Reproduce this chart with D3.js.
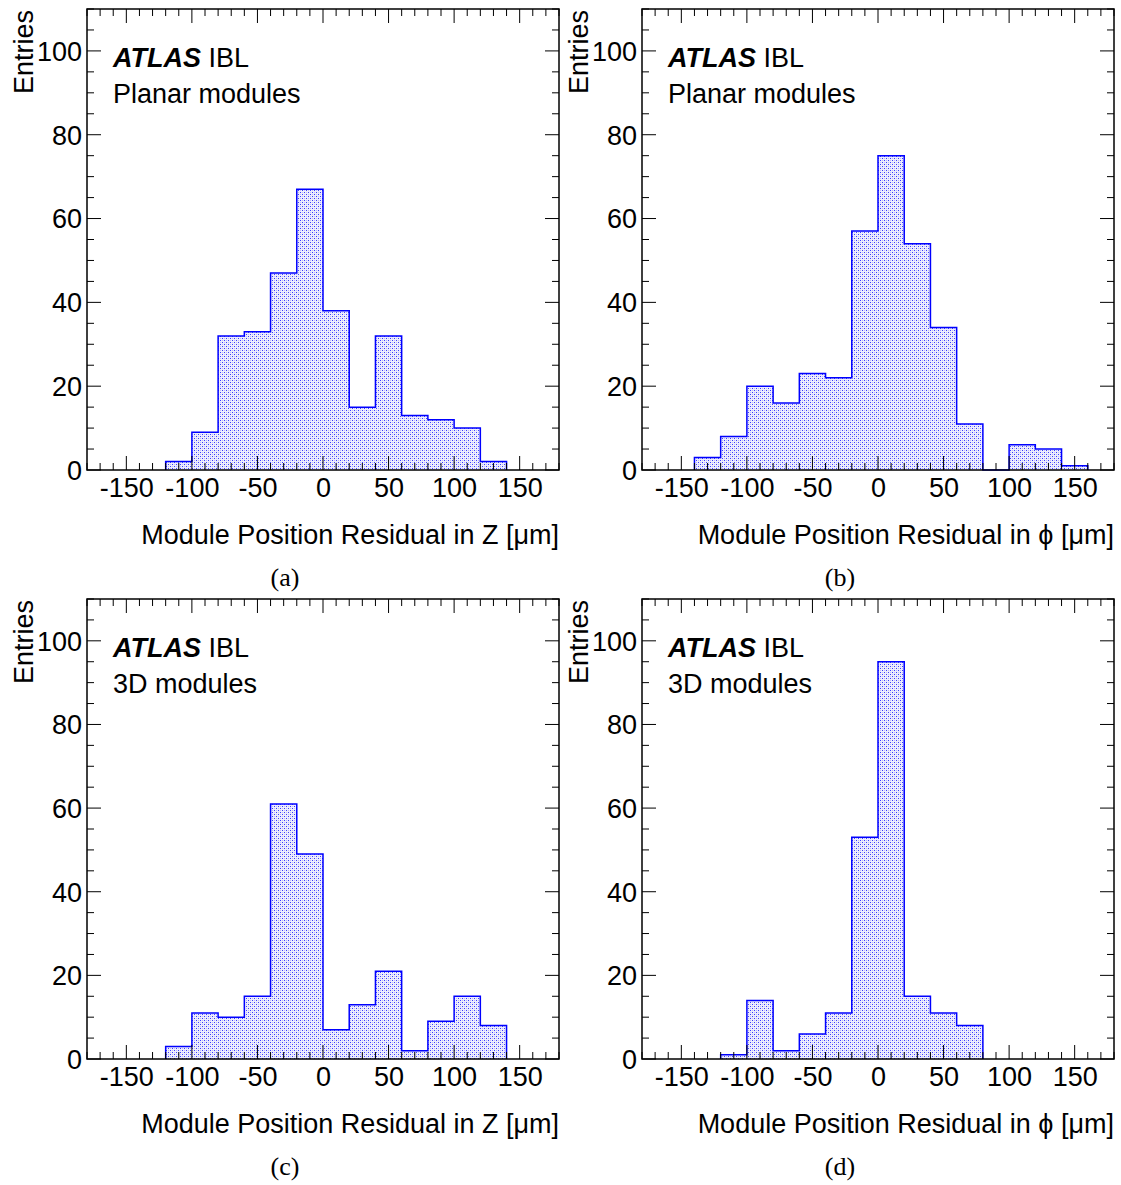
<!DOCTYPE html>
<html>
<head>
<meta charset="utf-8">
<script src="https://cdn.jsdelivr.net/npm/d3@7"></script>
<style>
  html, body { margin: 0; padding: 0; background: #fff; }
  svg { display: block; }
  text { font-family: "Liberation Sans", Arial, Helvetica, sans-serif; fill: #000; }
</style>
</head>
<body>
<script>
// ---------------- data ----------------
const binWidth = 20;
const xTickValues = [-150, -100, -50, 0, 50, 100, 150];
const yTickValues = [0, 20, 40, 60, 80, 100];
const xDomain = [-180, 180];
const yDomain = [0, 110];

const binsA = [-120, -100, -80, -60, -40, -20, 0, 20, 40, 60, 80, 100, 120];
const valuesA = [2, 9, 32, 33, 47, 67, 38, 15, 32, 13, 12, 10, 2];

const binsB = [-140, -120, -100, -80, -60, -40, -20, 0, 20, 40, 60, 80, 100, 120, 140];
const valuesB = [3, 8, 20, 16, 23, 22, 57, 75, 54, 34, 11, 0, 6, 5, 1];

const binsC = [-120, -100, -80, -60, -40, -20, 0, 20, 40, 60, 80, 100, 120];
const valuesC = [3, 11, 10, 15, 61, 49, 7, 13, 21, 2, 9, 15, 8];

const binsD = [-120, -100, -80, -60, -40, -20, 0, 20, 40, 60];
const valuesD = [1, 14, 2, 6, 11, 53, 95, 15, 11, 8];

const panelLabels = ["(a)", "(b)", "(c)", "(d)"];
const moduleLabels = ["Planar modules", "Planar modules", "3D modules", "3D modules"];
const xTitles = ["Module Position Residual in Z [\u03BCm]", "Module Position Residual in \u03D5 [\u03BCm]",
                 "Module Position Residual in Z [\u03BCm]", "Module Position Residual in \u03D5 [\u03BCm]"];
const yTitle = "Entries";

// ---------------- layout ----------------
const W = 1121, H = 1185;
const svg = d3.select("body").append("svg").attr("width", W).attr("height", H);

const defs = svg.append("defs");
const pat = defs.append("pattern").attr("id", "dots")
  .attr("patternUnits", "userSpaceOnUse").attr("width", 4).attr("height", 4);
pat.append("rect").attr("width", 4).attr("height", 4).attr("fill", "#eeeefd");
pat.append("rect").attr("x", 0).attr("y", 0).attr("width", 1).attr("height", 1).attr("fill", "#3c3cff");
pat.append("rect").attr("x", 2).attr("y", 2).attr("width", 1).attr("height", 1).attr("fill", "#3c3cff");
pat.append("rect").attr("x", 2).attr("y", 0).attr("width", 1).attr("height", 1).attr("fill", "#bcbcf8");
pat.append("rect").attr("x", 0).attr("y", 2).attr("width", 1).attr("height", 1).attr("fill", "#bcbcf8");

const frames = [
  { x0: 87, x1: 559, y0: 9, y1: 470 },
  { x0: 642, x1: 1114, y0: 9, y1: 470 },
  { x0: 87, x1: 559, y0: 599, y1: 1059 },
  { x0: 642, x1: 1114, y0: 599, y1: 1059 }
];
const data = [[binsA, valuesA], [binsB, valuesB], [binsC, valuesC], [binsD, valuesD]];
const fmt = v => String(v);

frames.forEach((f, i) => {
  const g = svg.append("g");
  const x = d3.scaleLinear().domain(xDomain).range([f.x0, f.x1]);
  const y = d3.scaleLinear().domain(yDomain).range([f.y1, f.y0]);
  const [bins, vals] = data[i];

  // step outline points
  const pts = [[bins[0], 0]];
  bins.forEach((lo, k) => { pts.push([lo, vals[k]]); pts.push([lo + binWidth, vals[k]]); });
  pts.push([bins[bins.length - 1] + binWidth, 0]);
  const line = d3.line().x(d => x(d[0])).y(d => y(d[1]));

  g.append("path").attr("d", line(pts) + "Z").attr("fill", "url(#dots)").attr("stroke", "none");
  g.append("path").attr("d", line(pts)).attr("fill", "none").attr("stroke", "#0000ff").attr("stroke-width", 1.5);

  const xMinor = d3.range(-180, 181, 10).filter(v => v % 50 !== 0);
  const yMinor = d3.range(0, 111, 5).filter(v => v % 20 !== 0);
  const tickStyle = s => s.attr("stroke", "#000").attr("stroke-width", 1);

  const bot = d3.axisBottom(x).tickValues(xTickValues).tickSize(0).tickFormat(fmt);
  const xa = g.append("g").attr("transform", `translate(0,${f.y1})`).call(bot);
  xa.select(".domain").remove();
  xa.selectAll("text").attr("font-size", 27).attr("dy", null).attr("y", 27)
    .style("font-family", "'Liberation Sans', Arial, sans-serif");

  const yAx = d3.axisLeft(y).tickValues(yTickValues).tickSize(0).tickFormat(fmt);
  const ya = g.append("g").attr("transform", `translate(${f.x0},0)`).call(yAx);
  ya.select(".domain").remove();
  ya.selectAll("text").attr("font-size", 27).attr("x", -5).attr("dy", "0.35em")
    .style("font-family", "'Liberation Sans', Arial, sans-serif");

  const tk = g.append("g");
  xTickValues.forEach(v => {
    tickStyle(tk.append("line").attr("x1", x(v)).attr("x2", x(v)).attr("y1", f.y1).attr("y2", f.y1 - 14));
    tickStyle(tk.append("line").attr("x1", x(v)).attr("x2", x(v)).attr("y1", f.y0).attr("y2", f.y0 + 14));
  });
  xMinor.forEach(v => {
    tickStyle(tk.append("line").attr("x1", x(v)).attr("x2", x(v)).attr("y1", f.y1).attr("y2", f.y1 - 7));
    tickStyle(tk.append("line").attr("x1", x(v)).attr("x2", x(v)).attr("y1", f.y0).attr("y2", f.y0 + 7));
  });
  yTickValues.forEach(v => {
    tickStyle(tk.append("line").attr("x1", f.x0).attr("x2", f.x0 + 14).attr("y1", y(v)).attr("y2", y(v)));
    tickStyle(tk.append("line").attr("x1", f.x1).attr("x2", f.x1 - 14).attr("y1", y(v)).attr("y2", y(v)));
  });
  yMinor.forEach(v => {
    tickStyle(tk.append("line").attr("x1", f.x0).attr("x2", f.x0 + 7).attr("y1", y(v)).attr("y2", y(v)));
    tickStyle(tk.append("line").attr("x1", f.x1).attr("x2", f.x1 - 7).attr("y1", y(v)).attr("y2", y(v)));
  });

  g.append("rect").attr("x", f.x0).attr("y", f.y0).attr("width", f.x1 - f.x0).attr("height", f.y1 - f.y0)
    .attr("fill", "none").attr("stroke", "#000").attr("stroke-width", 1.5);

  g.append("text").attr("transform", `translate(${f.x0 - 54},${f.y0 + 1}) rotate(-90)`)
    .attr("text-anchor", "end").attr("font-size", 27).text(yTitle);
  g.append("text").attr("x", f.x1).attr("y", f.y1 + 74).attr("text-anchor", "end")
    .attr("font-size", 27).text(xTitles[i]);

  const t = g.append("text").attr("x", f.x0 + 26).attr("y", f.y0 + 58).attr("font-size", 27);
  t.append("tspan").attr("font-weight", "bold").attr("font-style", "italic").text("ATLAS");
  t.append("tspan").text(" IBL");
  g.append("text").attr("x", f.x0 + 26).attr("y", f.y0 + 94).attr("font-size", 27).text(moduleLabels[i]);

  g.append("text").attr("x", (f.x0 + f.x1) / 2 - 38).attr("y", f.y1 + 116).attr("text-anchor", "middle")
    .attr("font-size", 26).style("font-family", "'Liberation Serif', 'Times New Roman', serif")
    .text(panelLabels[i]);
});
</script>
</body>
</html>
